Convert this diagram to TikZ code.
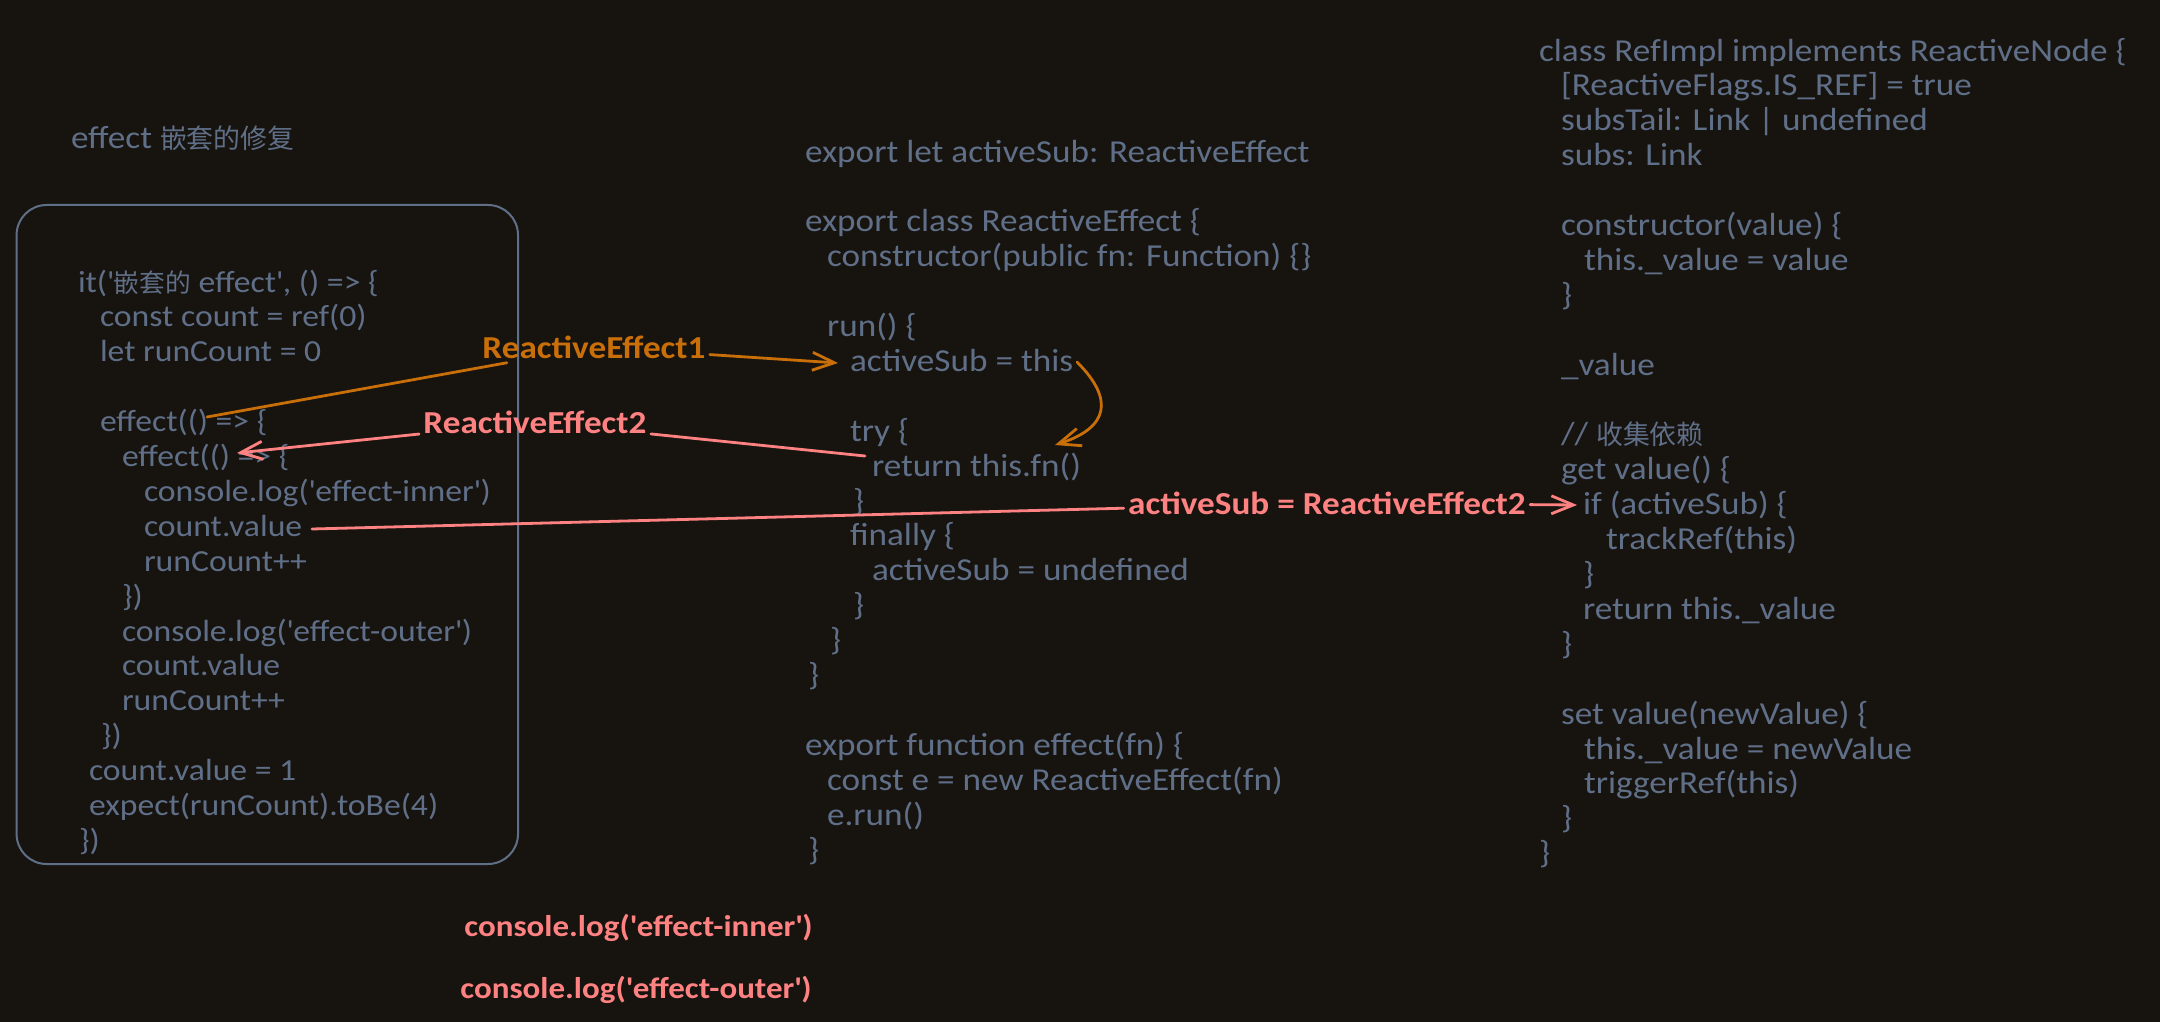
\documentclass[tikz,border=0pt]{standalone}
\usepackage{fontspec}
\setmainfont{Carlito}[FakeStretch=1.1]
\newfontfamily\cjk{Noto Sans CJK SC}[Scale=0.84]
\usetikzlibrary{arrows.meta}
\definecolor{bg}{RGB}{23,19,15}
\definecolor{ink}{RGB}{96,111,136}
\definecolor{org}{RGB}{201,111,10}
\definecolor{pnk}{RGB}{255,130,130}
\newcommand\I[1]{\hspace*{\dimexpr #1pt/2\relax}}
\newcommand\q{\textquotesingle}
\newcommand\fl{\rule{0pt}{14pt}}
\setlength{\lineskiplimit}{-100pt}
\begin{document}
\begin{tikzpicture}[x=0.5pt,y=-0.5pt,
  code/.style={anchor=north west, inner sep=0pt, outer sep=0pt, align=left, text=ink,
    font=\fontsize{16pt}{17.45pt}\selectfont},
  codesm/.style={code, font=\fontsize{15.3pt}{17.45pt}\selectfont},
  lbl/.style={inner sep=2pt, font=\bfseries\fontsize{16pt}{17.45pt}\selectfont},
  lblsm/.style={inner sep=2pt, font=\bfseries\fontsize{15pt}{17.45pt}\selectfont},
  conn/.style={line width=1.4pt, line cap=round, line join=round},
  tip/.style={-{Straight Barb[length=11pt,width=9pt]}}]
\fill[bg] (0,0) rectangle (2160,1022);
\useasboundingbox (0,0) rectangle (2160,1022);

% title
\node[code, anchor=base west] (title) at (71,149) {effect {\cjk 嵌套的修复}};

% left box
\node[draw=ink, line width=1pt, rounded corners=15pt, minimum width=250.7pt,
  minimum height=329.5pt, inner sep=0pt, anchor=north west] (box) at (15.6,204) {};

\node[codesm] (test) at (78,264) {\fl it(\q{\cjk 嵌套的} effect\q, () => \{\\
\I{22}const count = ref(0)\\
\I{22}let runCount = 0\\
\mbox{}\\
\I{22}effect(() => \{\\
\I{44}effect(() => \{\\
\I{66}console.log(\q effect-inner\q)\\
\I{66}count.value\\
\I{66}runCount++\\
\I{44}\})\\
\I{44}console.log(\q effect-outer\q)\\
\I{44}count.value\\
\I{44}runCount++\\
\I{23}\})\\
\I{11}count.value = 1\\
\I{11}expect(runCount).toBe(4)\\
\I{1}\})};

% middle block
\node[code] (mid) at (805,134) {\fl export let activeSub: ReactiveEffect\\
\mbox{}\\
export class ReactiveEffect \{\\
\I{22}constructor(public fn: Function) \{\}\\
\mbox{}\\
\I{22}run() \{\\
\I{45}activeSub = this\\
\mbox{}\\
\I{45}try \{\\
\I{67}return this.fn()\\
\I{48}\}\\
\I{45}finally \{\\
\I{67}activeSub = undefined\\
\I{48}\}\\
\I{25}\}\\
\I{3}\}\\
\mbox{}\\
export function effect(fn) \{\\
\I{22}const e = new ReactiveEffect(fn)\\
\I{22}e.run()\\
\I{3}\}};

% right block
\node[code] (ref) at (1539,33) {\fl class RefImpl implements ReactiveNode \{\\
\I{22}[ReactiveFlags.IS\_REF] = true\\
\I{22}subsTail: Link | undefined\\
\I{22}subs: Link\\
\mbox{}\\
\I{22}constructor(value) \{\\
\I{45}this.\_value = value\\
\I{22}\}\\
\mbox{}\\
\I{22}\_value\\
\mbox{}\\
\I{22}// {\cjk 收集依赖}\\
\I{22}get value() \{\\
\I{44}if (activeSub) \{\\
\I{67}trackRef(this)\\
\I{44}\}\\
\I{44}return this.\_value\\
\I{22}\}\\
\mbox{}\\
\I{22}set value(newValue) \{\\
\I{45}this.\_value = newValue\\
\I{45}triggerRef(this)\\
\I{22}\}\\
\I{0}\}};

% labels
\node[lbl, text=org] (re1) at (594,347) {ReactiveEffect1};
\node[lbl, text=pnk] (re2) at (535,422) {ReactiveEffect2};
\node[lbl, text=pnk] (as2) at (1327,503) {activeSub = ReactiveEffect2};
\node[lblsm, text=pnk, anchor=west] (inner) at (460,928) {console.log(\q effect-inner\q)};
\node[lblsm, text=pnk, anchor=west] (outer) at (456,990) {console.log(\q effect-outer\q)};

% connector ends
\coordinate (e1s) at (207,417);
\coordinate (e1t) at (838,363);
\coordinate (cs) at (1077,362);
\coordinate (ct) at (1055,445);
\coordinate (e2s) at (865,456);
\coordinate (e2t) at (237,453);
\coordinate (cvs) at (312,529);
\coordinate (ast) at (1577,505);

\draw[conn, org, tip] (e1s) -- (re1) -- (e1t);
\draw[conn, org, tip] (cs) .. controls (1115,400) and (1108,428) .. (ct);
\draw[conn, pnk, tip] (e2s) -- (re2) -- (e2t);
\draw[conn, pnk, tip] (cvs) -- (as2) -- (ast);
\end{tikzpicture}
\end{document}
